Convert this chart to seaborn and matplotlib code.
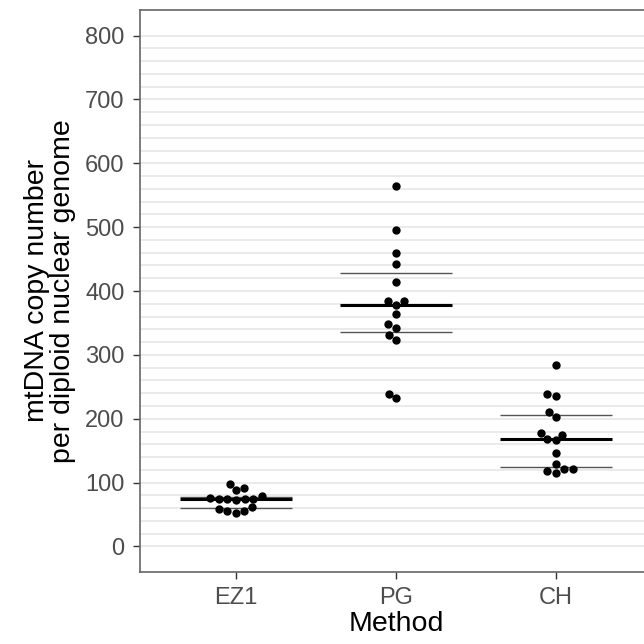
# mtDNA copy number by extraction method - beeswarm with median / quartiles

import numpy as np
import pandas as pd
import matplotlib
matplotlib.use("Agg")
import matplotlib.pyplot as plt
import seaborn as sns

# =========================
# DATA
# =========================

methods = ["EZ1", "PG", "CH"]

ez1_values = [98, 92, 88, 74, 75, 73, 76, 74, 75, 79,
              59, 55, 52, 56, 62]
pg_values = [565, 496, 459, 443, 414, 384, 384, 378, 364, 348,
             342, 331, 323, 239, 232]
ch_values = [284, 236, 238, 210, 202, 178, 175, 166, 169, 146,
             129, 121, 121, 115, 118]

y_ticks = [0, 100, 200, 300, 400, 500, 600, 700, 800]

df = pd.DataFrame({
    "Method": ["EZ1"] * len(ez1_values) + ["PG"] * len(pg_values) + ["CH"] * len(ch_values),
    "copies": ez1_values + pg_values + ch_values,
})

# =========================
# STYLE
# =========================

sns.set_style("white")
plt.rcParams["font.family"] = ["Liberation Sans", "DejaVu Sans"]

fig = plt.figure(figsize=(6.44, 6.44), dpi=100)
ax = fig.add_axes([140 / 644, 72 / 644, 512 / 644, 562 / 644])

# =========================
# SWARM
# =========================

sns.swarmplot(data=df, x="Method", y="copies", order=methods,
              color="black", size=6, ax=ax, zorder=3)

# median (thick) and quartiles (thin)
for i, m in enumerate(methods):
    vals = df.loc[df["Method"] == m, "copies"].values
    q1, med, q3 = np.percentile(vals, [25, 50, 75])
    ax.hlines([q1, q3], i - 0.35, i + 0.35, color="#555555", lw=1.0, zorder=2)
    ax.hlines(med, i - 0.35, i + 0.35, color="black", lw=2.2, zorder=4)

# =========================
# AXES
# =========================

ax.set_xlim(-0.6, 2.6)
ax.set_ylim(-40, 840)
ax.set_yticks(y_ticks)
ax.set_yticks(np.arange(0, 801, 20), minor=True)
ax.grid(axis="y", which="both", color="#E6E6E6", lw=1.2, zorder=0)
ax.grid(axis="x", visible=False)
ax.set_axisbelow(True)

ax.tick_params(axis="both", which="major", labelsize=17, labelcolor="#4D4D4D",
               color="#333333", length=5, width=1, pad=6, left=True, bottom=True)
ax.tick_params(axis="y", which="minor", length=0)

for s in ax.spines.values():
    s.set_color("#666666")
    s.set_linewidth(1.2)

ax.set_xlabel("Method", fontsize=20.5, color="black", labelpad=1)
ax.set_ylabel("mtDNA copy number\nper diploid nuclear genome", fontsize=20.5,
              color="black", linespacing=0.95, labelpad=7)

fig.savefig("out.png", dpi=100)
